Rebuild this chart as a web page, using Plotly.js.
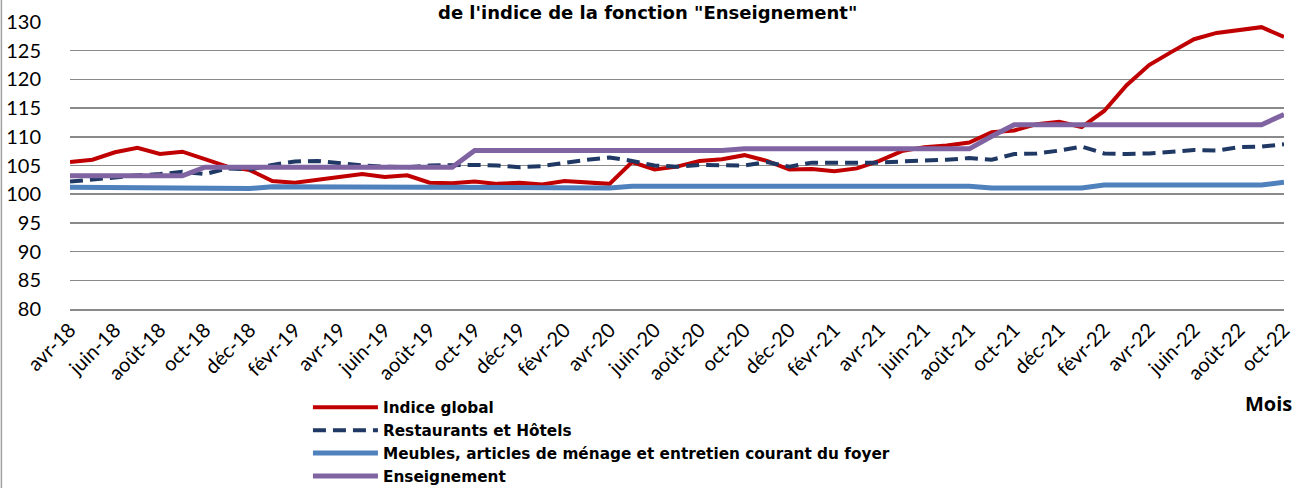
<!DOCTYPE html>
<html>
<head>
<meta charset="utf-8">
<script src="https://cdn.plot.ly/plotly-3.0.1.min.js"></script>
<style>
html,body{margin:0;padding:0;background:#fff;}
#chart{width:1296px;height:488px;}
</style>
</head>
<body>
<div id="chart"></div>
<script>
const months = ["avr-18","mai-18","juin-18","juil-18","août-18","sept-18","oct-18","nov-18","déc-18","janv-19","févr-19","mars-19",
"avr-19","mai-19","juin-19","juil-19","août-19","sept-19","oct-19","nov-19","déc-19","janv-20","févr-20","mars-20",
"avr-20","mai-20","juin-20","juil-20","août-20","sept-20","oct-20","nov-20","déc-20","janv-21","févr-21","mars-21",
"avr-21","mai-21","juin-21","juil-21","août-21","sept-21","oct-21","nov-21","déc-21","janv-22","févr-22","mars-22",
"avr-22","mai-22","juin-22","juil-22","août-22","sept-22","oct-22"];

const indiceGlobal = [105.6,106.0,107.3,108.1,107.0,107.4,106.1,104.8,104.2,102.3,102.0,102.5,
103.0,103.5,103.0,103.3,102.0,101.9,102.2,101.8,102.0,101.7,102.3,102.1,
101.8,105.6,104.3,104.8,105.8,106.1,106.8,105.8,104.3,104.4,104.0,104.5,
105.8,107.5,108.2,108.5,109.0,110.8,111.1,112.2,112.6,111.7,114.5,119.0,
122.5,124.8,127.0,128.1,128.6,129.1,127.4];

const restaurantsHotels = [102.2,102.5,102.9,103.3,103.5,103.9,103.5,104.5,104.3,105.1,105.7,105.8,
105.4,105.0,104.8,104.7,105.0,105.1,105.1,105.0,104.7,104.9,105.5,106.0,
106.4,105.8,105.0,104.8,105.1,105.1,105.0,105.6,104.8,105.5,105.5,105.4,
105.5,105.7,105.8,106.0,106.3,106.0,107.0,107.1,107.6,108.3,107.1,107.0,
107.1,107.4,107.7,107.6,108.2,108.3,108.7];

const meubles = [101.2,101.2,101.2,101.2,101.2,101.2,101.0,101.0,101.0,101.3,101.3,101.3,
101.3,101.3,101.3,101.3,101.3,101.3,101.3,101.3,101.3,101.3,101.3,101.1,
101.1,101.4,101.4,101.4,101.4,101.4,101.4,101.4,101.4,101.4,101.4,101.4,
101.4,101.4,101.4,101.4,101.4,101.1,101.1,101.1,101.1,101.1,101.6,101.6,
101.6,101.6,101.6,101.6,101.6,101.6,102.1];

const enseignement = [103.2,103.2,103.2,103.2,103.2,103.2,104.7,104.7,104.7,104.7,104.7,104.7,
104.7,104.7,104.7,104.7,104.7,104.7,107.6,107.6,107.6,107.6,107.6,107.6,
107.6,107.6,107.6,107.6,107.6,107.6,107.9,107.9,107.9,107.9,107.9,107.9,
107.9,107.9,107.9,107.9,107.9,110.1,112.1,112.1,112.1,112.1,112.1,112.1,
112.1,112.1,112.1,112.1,112.1,112.1,113.9];

const seriesNames = ["Indice global","Restaurants et Hôtels","Meubles, articles de ménage et entretien courant du foyer","Enseignement"];
const tickLabels = months.filter((m,i)=> i%2===0);

const FONT = "Lato, 'Open Sans', sans-serif";
const BFONT = "'DejaVu Sans', 'Open Sans', sans-serif";

const traces = [
  {x: months, y: indiceGlobal, name: seriesNames[0], type:'scatter', mode:'lines',
   line:{color:'#C00000', width:4}},
  {x: months, y: restaurantsHotels, name: seriesNames[1], type:'scatter', mode:'lines',
   line:{color:'#1F3864', width:4, dash:'13px,7px'}},
  {x: months, y: meubles, name: seriesNames[2], type:'scatter', mode:'lines',
   line:{color:'#4F81BD', width:5}},
  {x: months, y: enseignement, name: seriesNames[3], type:'scatter', mode:'lines',
   line:{color:'#8064A2', width:5}}
];

const layout = {
  width:1296, height:488,
  margin:{l:70, r:12, t:22, b:179, autoexpand:false},
  paper_bgcolor:'#fff', plot_bgcolor:'#fff',
  font:{family:FONT, color:'#000'},
  showlegend:true,
  legend:{
    x:0.196, y:-0.285, xanchor:'left', yanchor:'top',
    font:{family:BFONT, size:15.3, weight:'bold', color:'#000'},
    itemwidth:65, tracegroupgap:0, bgcolor:'rgba(0,0,0,0)'
  },
  xaxis:{
    type:'category', range:[0, months.length-1],
    tickmode:'array', tickvals: tickLabels, ticktext: tickLabels,
    tickangle:-45, tickfont:{family:FONT, size:20, color:'#000'},
    showgrid:false, showline:true, linecolor:'#8a8a8a', linewidth:1.5,
    ticks:'', zeroline:false, automargin:false
  },
  yaxis:{
    range:[80,130], dtick:5, tick0:80,
    tickfont:{family:FONT, size:20, color:'#000'},
    showgrid:true, gridcolor:'#8a8a8a', gridwidth:1.5,
    zeroline:false, showline:false, ticks:'', ticklabelstandoff:28, automargin:false
  },
  annotations:[
    {text:'de l\'indice de la fonction "Enseignement"', xref:'paper', yref:'paper',
     x:0.476, y:1, xanchor:'center', yanchor:'top', yshift:22, showarrow:false,
     font:{family:BFONT, size:18, weight:'bold', color:'#000'}},
    {text:'Mois', xref:'paper', yref:'paper', x:1.0, y:-0.33, xanchor:'right', yanchor:'middle',
     xshift:10, showarrow:false, font:{family:"'Open Sans', sans-serif", size:20, weight:'bold', color:'#000'}}
  ],
  shapes:[
    {type:'line', xref:'paper', yref:'paper', x0:-0.0565, x1:-0.0565, y0:-0.63, y1:1.08,
     line:{color:'#a0a0a0', width:1.5}}
  ]
};

Plotly.newPlot('chart', traces, layout, {displayModeBar:false, staticPlot:true});
</script>
</body>
</html>
